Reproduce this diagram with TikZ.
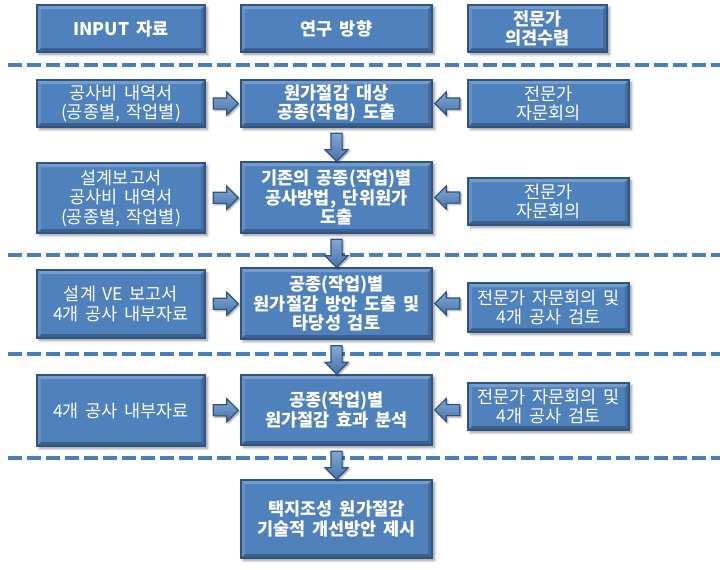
\documentclass[tikz,border=0pt]{standalone}
\usepackage{fontspec}
\setmainfont[WordSpace=1.7]{Noto Sans CJK KR}
\usetikzlibrary{calc,shapes.arrows,shadows.blur}
\definecolor{boxblue}{HTML}{4F81BD}
\definecolor{boxedge}{HTML}{2E5484}
\definecolor{sepblue}{HTML}{4A7EBB}
\newcommand{\ppb}{path picture bounding box}
\begin{document}
\begin{tikzpicture}[x=1pt, y=-1pt,
  b/.style={rectangle, draw=boxedge, line width=1.2pt, fill=boxblue, text=white,
    align=center, inner sep=2pt, font=\fontsize{17.5}{19.5}\selectfont,
    blur shadow={shadow xshift=2.5pt, shadow yshift=-2.5pt, shadow blur steps=6, shadow blur radius=2.5pt},
    path picture={
      \fill[white, opacity=.22] (\ppb.north west) -- (\ppb.north east)
        -- ([shift={(-4pt,-4pt)}]\ppb.north east) -- ([shift={(4pt,-4pt)}]\ppb.north west) -- cycle;
      \fill[white, opacity=.12] (\ppb.north west) -- (\ppb.south west)
        -- ([shift={(4pt,4pt)}]\ppb.south west) -- ([shift={(4pt,-4pt)}]\ppb.north west) -- cycle;
      \fill[black, opacity=.25] (\ppb.south west) -- (\ppb.south east)
        -- ([shift={(-4pt,4pt)}]\ppb.south east) -- ([shift={(4pt,4pt)}]\ppb.south west) -- cycle;
      \fill[black, opacity=.15] (\ppb.north east) -- (\ppb.south east)
        -- ([shift={(-4pt,4pt)}]\ppb.south east) -- ([shift={(-4pt,-4pt)}]\ppb.north east) -- cycle;
    }},
  bb/.style={b, font=\fontsize{17.5}{19.5}\selectfont\bfseries},
  lw/.style={minimum width=168pt},
  cw/.style={minimum width=191pt},
  rw/.style={minimum width=161pt},
  ar/.style={single arrow, draw=boxedge, line width=1.2pt, inner sep=5pt,
    single arrow head extend=6pt, top color=boxblue!70!white, bottom color=boxblue!90!black,
    blur shadow={shadow xshift=1.5pt, shadow yshift=-1.5pt, shadow blur steps=4, shadow blur radius=1.5pt}},
  sep/.style={draw=sepblue, line width=4pt, dash pattern=on 14pt off 5pt}
]
\useasboundingbox (0,0) rectangle (720,570);

% separators
\foreach \yy in {65,255,354,458}
  \draw[sep] (8,\yy) -- (720,\yy);

% header
\node[bb, lw, minimum height=47pt] (h1) at (121,28.5) {INPUT 자료};
\node[bb, cw, minimum height=47pt] (h2) at (336.5,28.5) {연구 방향};
\node[bb, minimum width=139pt, minimum height=47pt] (h3) at (537.5,28.5) {전문가\\의견수렴};

% row 1
\node[b, lw, minimum height=47pt] (l1) at (121,103.5) {공사비 내역서\\(공종별, 작업별)};
\node[bb, cw, minimum height=47pt] (c1) at (336.5,103.5) {원가절감 대상\\공종(작업) 도출};
\node[b, rw, minimum height=47pt] (r1) at (548.5,103.5) {전문가\\자문회의};

% row 2
\node[b, lw, minimum height=70pt] (l2) at (121,198) {설계보고서\\공사비 내역서\\(공종별, 작업별)};
\node[bb, cw, minimum height=71pt] (c2) at (336.5,197.5) {기존의 공종(작업)별\\공사방법, 단위원가\\도출};
\node[b, rw, minimum height=47pt] (r2) at (548.5,201.5) {전문가\\자문회의};

% row 3
\node[b, lw, minimum height=68pt] (l3) at (121,304) {설계 VE 보고서\\4개 공사 내부자료};
\node[bb, cw, minimum height=71pt] (c3) at (336.5,303.5) {공종(작업)별\\원가절감 방안 도출 및\\타당성 검토};
\node[b, rw, minimum height=49pt] (r3) at (548.5,307.5) {전문가 자문회의 및\\4개 공사 검토};

% row 4
\node[b, lw, minimum height=71pt] (l4) at (121,410.5) {4개 공사 내부자료};
\node[bb, cw, minimum height=70pt] (c4) at (336.5,410) {공종(작업)별\\원가절감 효과 분석};
\node[b, rw, minimum height=47pt] (r4) at (548.5,406.5) {전문가 자문회의 및\\4개 공사 검토};

% result
\node[bb, cw, minimum height=78pt] (c5) at (336.5,519) {택지조성 원가절감\\기술적 개선방안 제시};

% block arrows
\foreach \i in {1,2,3,4} {
  \node[ar, minimum height=25pt] (la\i) at ($(l\i.east)!.5!(c\i.west)$) {};
  \node[ar, minimum height=25pt, shape border rotate=180] (ra\i) at ($(r\i.west|-c\i.center)!.5!(c\i.east)$) {};
}
\foreach \i/\j in {1/2,2/3,3/4,4/5}
  \node[ar, minimum height=28pt, shape border rotate=270] (da\i) at ($(c\i.south)!.5!(c\j.north)$) {};
\end{tikzpicture}
\end{document}
